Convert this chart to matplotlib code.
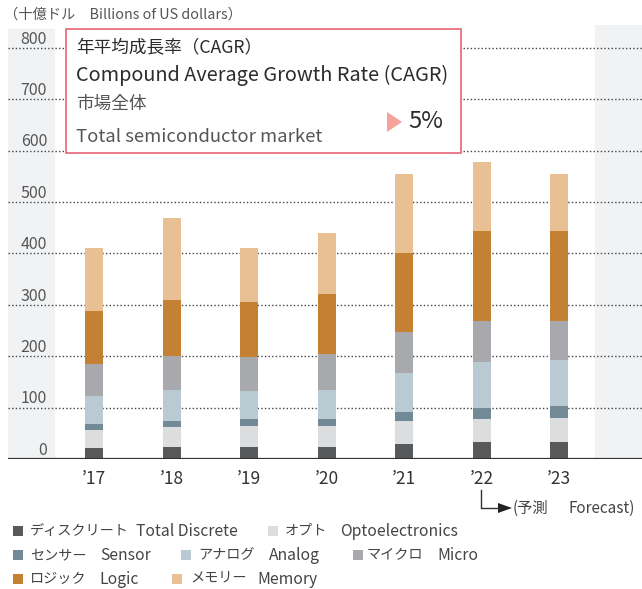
import matplotlib
matplotlib.use("Agg")
import matplotlib.pyplot as plt
from matplotlib.patches import Rectangle, Polygon
import numpy as np

plt.rcParams['font.family'] = ['Noto Sans CJK JP', 'DejaVu Sans']

# data (billions of US dollars)
years = ["’17", "’18", "’19", "’20", "’21", "’22", "’23"]
discrete = [21, 24, 23, 23, 29, 33, 33]
opto = [35, 38, 41, 41, 45, 45, 47]
sensor = [12, 12, 14, 14, 17, 21, 23]
analog = [54, 60, 54, 56, 76, 90, 89]
micro = [63, 66, 66, 70, 80, 80, 77]
logic = [103, 109, 107, 117, 154, 175, 175]
memory = [122, 160, 105, 119, 153, 134, 110]

series = [discrete, opto, sensor, analog, micro, logic, memory]
colors = ["#58595b", "#dcdddf", "#728a96", "#b9cad3", "#a7a9ac", "#c48033", "#e9c093"]
labels_jp = ["ディスクリート", "オプト", "センサー", "アナログ", "マイクロ", "ロジック", "メモリー"]
labels_en = ["Total Discrete", "Optoelectronics", "Sensor", "Analog", "Micro", "Logic", "Memory"]
yticks = [0, 100, 200, 300, 400, 500, 600, 700, 800]

W, H = 642, 589
fig = plt.figure(figsize=(W / 100, H / 100), dpi=100)


def fx(px):
    return px / W


def fy(py):
    return 1 - py / H


# axes in pixel geometry
ax_l, ax_r, ax_t, ax_b = 8, 642, 25, 459
ax = fig.add_axes([fx(ax_l), fy(ax_b), fx(ax_r - ax_l), (ax_b - ax_t) / H])
step = 77.5
x0 = 94
ax.set_xlim((ax_l - x0) / step, (ax_r - x0) / step)
ax.set_ylim(0, (ax_b - ax_t) / 0.514)
ax.axis("off")

# grey side bands
ax.axvspan((ax_l - x0) / step, (54 - x0) / step, ymin=0, ymax=0.99, color="#f1f2f4", zorder=0)
ax.axvspan((595 - x0) / step, (ax_r - x0) / step, color="#f1f2f4", zorder=0)

# gridlines and labels
for v in yticks:
    if v > 0:
        ax.axhline(v, color="#444444", lw=1.0, linestyle=(0, (1, 1.6)), zorder=1)
    ax.text((47 - x0) / step, v + 17, str(v), ha="right", va="center",
            fontsize=11.5, color="#555555", zorder=3)
ax.axhline(0, color="#333333", lw=1.6, zorder=4)

x = np.arange(len(years))
bottom = np.zeros(len(years))
for vals, c in zip(series, colors):
    ax.bar(x, vals, width=18 / step, bottom=bottom, color=c, zorder=2, linewidth=0)
    bottom += np.array(vals)

for i, yl in enumerate(years):
    ax.text(i, -38, yl, ha="center", va="center", fontsize=12.5, color="#333333", clip_on=False)

# header
fig.text(fx(4), fy(15), "（十億ドル　Billions of US dollars）", fontsize=10.3,
         color="#555555", va="center", ha="left")

# CAGR box
box = Rectangle((fx(66), fy(153)), fx(461 - 66), (153 - 29) / H, transform=fig.transFigure,
                facecolor="white", edgecolor="#e5566e", lw=1.1, zorder=10)
fig.add_artist(box)
fig.text(fx(76), fy(47), "年平均成長率（CAGR）", fontsize=12.7, color="#2b2b2b",
         va="center", zorder=11)
fig.text(fx(76), fy(75), "Compound Average Growth Rate (CAGR)", fontsize=14.3,
         color="#2b2b2b", va="center", zorder=11)
fig.text(fx(76), fy(104), "市場全体", fontsize=12.7, color="#555555", va="center", zorder=11)
fig.text(fx(76), fy(137), "Total semiconductor market", fontsize=13.3, color="#555555",
         va="center", zorder=11)
tri = Polygon([(fx(387), fy(112)), (fx(387), fy(132)), (fx(402), fy(122))],
              closed=True, transform=fig.transFigure, facecolor="#f4a29a",
              edgecolor="none", zorder=11)
fig.add_artist(tri)
fig.text(fx(408), fy(122), "5%", fontsize=17, color="#2b2b2b", va="center", zorder=11)

# forecast marker
fig.add_artist(plt.Line2D([fx(481), fx(481), fx(500)], [fy(490), fy(508), fy(508)],
                          color="#333333", lw=1.0, transform=fig.transFigure))
fig.add_artist(Polygon([(fx(498), fy(503)), (fx(498), fy(513)), (fx(512), fy(508))],
                       closed=True, transform=fig.transFigure, facecolor="#222222",
                       edgecolor="none"))
fig.text(fx(513), fy(508), "(予測", fontsize=11, color="#444444", va="center")
fig.text(fx(569), fy(508), "Forecast)", fontsize=11, color="#444444", va="center")

# legend
legend_pos = [
    (13, 531, 30, 136), (268, 531, 285, 340),
    (13, 555, 30, 100), (181, 555, 198, 269), (353, 555, 367, 437),
    (13, 579, 30, 99), (172, 579, 190, 257),
]
for (sq, row, jx, ex), c, lj, le in zip(legend_pos, colors, labels_jp, labels_en):
    fig.add_artist(Rectangle((fx(sq), fy(row + 5)), fx(10), 10 / H,
                             transform=fig.transFigure, facecolor=c, edgecolor="none"))
    fig.text(fx(jx), fy(row), lj, fontsize=10.2, color="#444444", va="center")
    fig.text(fx(ex), fy(row), le, fontsize=11.3, color="#444444", va="center")

fig.savefig("out.png", dpi=100)
